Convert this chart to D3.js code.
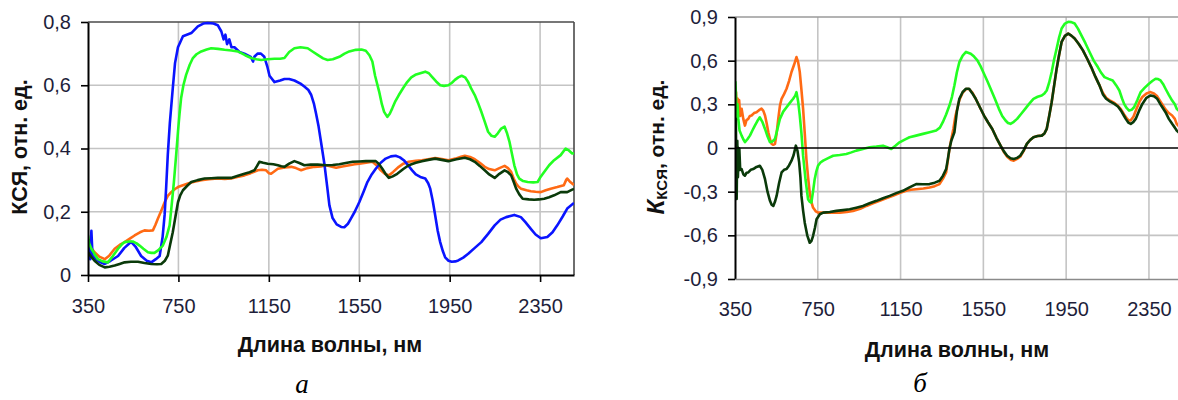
<!DOCTYPE html>
<html><head><meta charset="utf-8">
<script src="https://cdn.jsdelivr.net/npm/d3@7"></script>
<style>
body{margin:0;background:#fff}
</style>
</head><body>
<svg id="c" width="1178" height="400"></svg>
<script>
// ---------- ticks ----------
const xTicks = [350, 750, 1150, 1550, 1950, 2350];
const xTickLabels = ["350", "750", "1150", "1550", "1950", "2350"];
const yTicksA = [0, 0.2, 0.4, 0.6, 0.8];
const yTickLabelsA = ["0", "0,2", "0,4", "0,6", "0,8"];
const yTicksB = [-0.9, -0.6, -0.3, 0, 0.3, 0.6, 0.9];
const yTickLabelsB = ["-0,9", "-0,6", "-0,3", "0", "0,3", "0,6", "0,9"];

// ---------- panel a: [wavelength nm, KSYa] ----------
const blueA = [[350,0.07],[355,0.11],[360,0.05],[365,0.14],[370,0.06],[385,0.05],[405,0.04],[424,0.035],[450,0.045],[483,0.06],[510,0.085],[541,0.105],[560,0.09],[585,0.06],[610,0.045],[630,0.04],[650,0.05],[667,0.06],[680,0.12],[689,0.19],[696,0.28],[703,0.38],[712,0.48],[725,0.59],[735,0.67],[748,0.72],[770,0.755],[807,0.765],[836,0.786],[860,0.795],[880,0.797],[905,0.795],[924,0.79],[940,0.77],[950,0.745],[958,0.76],[965,0.73],[975,0.745],[985,0.72],[998,0.72],[1020,0.705],[1042,0.70],[1070,0.69],[1080,0.675],[1086,0.69],[1100,0.70],[1115,0.70],[1130,0.69],[1143,0.66],[1153,0.63],[1175,0.61],[1200,0.615],[1219,0.62],[1240,0.62],[1263,0.615],[1290,0.605],[1307,0.596],[1325,0.585],[1337,0.57],[1350,0.54],[1359,0.51],[1370,0.47],[1381,0.42],[1396,0.35],[1408,0.28],[1418,0.22],[1432,0.18],[1450,0.16],[1470,0.152],[1484,0.151],[1500,0.162],[1513,0.178],[1530,0.2],[1550,0.23],[1570,0.265],[1586,0.294],[1605,0.318],[1623,0.336],[1645,0.355],[1667,0.368],[1690,0.375],[1711,0.377],[1730,0.372],[1747,0.363],[1765,0.348],[1784,0.331],[1800,0.318],[1820,0.31],[1842,0.305],[1855,0.29],[1864,0.273],[1875,0.235],[1886,0.188],[1897,0.14],[1908,0.104],[1920,0.075],[1930,0.056],[1945,0.045],[1959,0.042],[1975,0.043],[1988,0.046],[2010,0.055],[2032,0.067],[2060,0.085],[2090,0.104],[2120,0.13],[2149,0.157],[2175,0.175],[2200,0.183],[2236,0.19],[2265,0.183],[2285,0.167],[2309,0.146],[2330,0.128],[2353,0.116],[2382,0.12],[2405,0.135],[2426,0.157],[2450,0.185],[2470,0.21],[2500,0.228]];
const greenA = [[350,0.125],[355,0.1],[365,0.083],[380,0.065],[394,0.05],[415,0.043],[438,0.04],[460,0.06],[483,0.083],[500,0.097],[512,0.104],[530,0.106],[548,0.106],[565,0.1],[578,0.093],[595,0.083],[615,0.072],[630,0.07],[644,0.07],[660,0.078],[681,0.093],[697,0.12],[711,0.157],[720,0.22],[730,0.294],[740,0.38],[748,0.453],[755,0.51],[762,0.56],[772,0.6],[784,0.633],[800,0.665],[814,0.686],[830,0.698],[851,0.707],[875,0.713],[895,0.717],[925,0.715],[954,0.712],[985,0.71],[1013,0.707],[1045,0.695],[1072,0.686],[1095,0.682],[1116,0.68],[1145,0.682],[1175,0.684],[1200,0.684],[1219,0.686],[1240,0.705],[1263,0.717],[1290,0.72],[1322,0.717],[1345,0.706],[1366,0.696],[1390,0.685],[1410,0.68],[1433,0.682],[1462,0.69],[1485,0.7],[1506,0.707],[1535,0.712],[1560,0.713],[1579,0.709],[1595,0.695],[1608,0.675],[1620,0.63],[1638,0.58],[1650,0.54],[1660,0.516],[1674,0.5],[1685,0.51],[1696,0.527],[1710,0.55],[1725,0.569],[1745,0.592],[1762,0.61],[1780,0.625],[1798,0.633],[1820,0.638],[1842,0.643],[1858,0.638],[1871,0.627],[1890,0.612],[1908,0.6],[1925,0.598],[1944,0.6],[1960,0.608],[1973,0.617],[1988,0.625],[2003,0.63],[2018,0.625],[2032,0.61],[2045,0.59],[2061,0.569],[2075,0.545],[2090,0.516],[2105,0.485],[2120,0.453],[2135,0.44],[2149,0.437],[2163,0.448],[2178,0.463],[2193,0.469],[2203,0.45],[2215,0.42],[2225,0.385],[2236,0.347],[2248,0.318],[2258,0.305],[2275,0.297],[2295,0.294],[2320,0.293],[2339,0.294],[2352,0.31],[2368,0.326],[2390,0.347],[2412,0.363],[2441,0.379],[2463,0.4],[2475,0.395],[2492,0.384],[2500,0.385]];
const orangeA = [[350,0.104],[365,0.085],[379,0.072],[400,0.058],[424,0.05],[445,0.062],[468,0.083],[490,0.095],[512,0.104],[535,0.115],[556,0.125],[580,0.135],[600,0.141],[620,0.14],[637,0.141],[648,0.158],[659,0.178],[675,0.205],[689,0.23],[703,0.25],[718,0.262],[735,0.272],[748,0.278],[770,0.284],[792,0.289],[820,0.295],[851,0.3],[885,0.303],[924,0.305],[955,0.304],[983,0.305],[1010,0.31],[1042,0.315],[1070,0.322],[1101,0.331],[1120,0.333],[1138,0.331],[1150,0.322],[1160,0.32],[1175,0.328],[1190,0.336],[1220,0.34],[1249,0.342],[1270,0.338],[1293,0.331],[1320,0.338],[1351,0.342],[1380,0.343],[1404,0.347],[1425,0.343],[1448,0.339],[1475,0.343],[1506,0.347],[1530,0.35],[1550,0.352],[1580,0.355],[1608,0.358],[1625,0.348],[1645,0.331],[1663,0.32],[1681,0.315],[1700,0.326],[1725,0.342],[1745,0.352],[1769,0.358],[1800,0.361],[1827,0.363],[1855,0.366],[1886,0.37],[1915,0.367],[1944,0.363],[1975,0.368],[2000,0.374],[2017,0.377],[2040,0.373],[2061,0.366],[2083,0.355],[2105,0.342],[2125,0.335],[2149,0.331],[2170,0.338],[2193,0.345],[2208,0.338],[2222,0.326],[2233,0.305],[2244,0.289],[2255,0.279],[2266,0.273],[2290,0.268],[2309,0.265],[2330,0.263],[2353,0.262],[2375,0.268],[2397,0.273],[2426,0.278],[2455,0.284],[2465,0.3],[2470,0.305],[2482,0.295],[2492,0.289],[2500,0.285]];
const darkA = [[350,0.072],[365,0.057],[379,0.045],[400,0.032],[424,0.024],[445,0.026],[468,0.03],[490,0.035],[512,0.04],[540,0.042],[571,0.042],[600,0.038],[630,0.035],[655,0.034],[674,0.035],[690,0.045],[703,0.061],[713,0.095],[725,0.135],[737,0.185],[748,0.23],[758,0.252],[770,0.268],[790,0.283],[807,0.294],[835,0.3],[866,0.305],[895,0.306],[924,0.307],[955,0.307],[983,0.307],[1010,0.313],[1042,0.32],[1065,0.325],[1086,0.331],[1098,0.345],[1108,0.358],[1125,0.355],[1145,0.352],[1170,0.35],[1190,0.347],[1205,0.344],[1219,0.342],[1240,0.352],[1263,0.36],[1285,0.354],[1307,0.347],[1335,0.349],[1366,0.349],[1404,0.347],[1432,0.348],[1462,0.35],[1490,0.354],[1521,0.358],[1550,0.359],[1579,0.36],[1600,0.36],[1623,0.36],[1638,0.35],[1652,0.336],[1666,0.32],[1681,0.307],[1698,0.312],[1718,0.32],[1745,0.335],[1769,0.347],[1800,0.355],[1827,0.36],[1855,0.364],[1886,0.368],[1915,0.364],[1944,0.36],[1980,0.366],[2017,0.371],[2040,0.366],[2061,0.358],[2083,0.345],[2105,0.331],[2125,0.318],[2149,0.307],[2170,0.32],[2193,0.331],[2208,0.325],[2222,0.315],[2233,0.295],[2244,0.273],[2258,0.255],[2273,0.241],[2300,0.239],[2324,0.238],[2345,0.239],[2368,0.241],[2390,0.246],[2412,0.252],[2441,0.262],[2470,0.262],[2492,0.27],[2500,0.272]];

// ---------- panel б: [wavelength nm, K_KSYa] ----------
const orangeB = [[350,0.35],[353,0.2],[355,0.384],[358,0.25],[362,0.34],[366,0.29],[370,0.33],[375,0.22],[382,0.27],[390,0.2],[398,0.154],[405,0.19],[414,0.2],[422,0.22],[430,0.223],[442,0.24],[454,0.246],[466,0.26],[478,0.27],[487,0.255],[495,0.223],[503,0.17],[511,0.108],[519,0.06],[527,0.028],[535,0.022],[543,0.028],[551,0.1],[559,0.2],[567,0.29],[575,0.338],[587,0.37],[599,0.407],[611,0.46],[623,0.522],[635,0.57],[647,0.625],[655,0.59],[663,0.522],[671,0.4],[679,0.27],[687,0.1],[695,-0.076],[703,-0.2],[711,-0.306],[719,-0.37],[727,-0.409],[740,-0.435],[752,-0.444],[792,-0.444],[825,-0.445],[856,-0.444],[890,-0.44],[920,-0.432],[955,-0.418],[985,-0.398],[1017,-0.38],[1049,-0.363],[1080,-0.345],[1113,-0.329],[1145,-0.31],[1177,-0.294],[1200,-0.287],[1225,-0.283],[1260,-0.278],[1290,-0.271],[1315,-0.262],[1338,-0.248],[1355,-0.21],[1370,-0.168],[1378,-0.09],[1386,-0.007],[1395,0.06],[1405,0.131],[1415,0.22],[1434,0.33],[1450,0.38],[1466,0.405],[1481,0.405],[1497,0.38],[1513,0.338],[1533,0.28],[1553,0.223],[1573,0.175],[1593,0.131],[1613,0.07],[1633,0.016],[1650,-0.03],[1665,-0.06],[1681,-0.08],[1697,-0.087],[1713,-0.075],[1728,-0.06],[1745,-0.02],[1760,0.028],[1776,0.055],[1792,0.074],[1812,0.082],[1832,0.085],[1845,0.1],[1856,0.131],[1868,0.22],[1880,0.315],[1892,0.43],[1904,0.545],[1916,0.64],[1928,0.729],[1944,0.77],[1960,0.786],[1975,0.772],[1991,0.752],[2011,0.715],[2031,0.671],[2051,0.615],[2071,0.556],[2091,0.49],[2111,0.43],[2127,0.38],[2143,0.345],[2163,0.325],[2183,0.31],[2200,0.29],[2215,0.265],[2230,0.23],[2245,0.2],[2254,0.189],[2262,0.19],[2275,0.215],[2290,0.27],[2305,0.32],[2318,0.35],[2338,0.375],[2358,0.384],[2374,0.375],[2390,0.355],[2410,0.31],[2430,0.265],[2446,0.24],[2462,0.223],[2475,0.2],[2484,0.166],[2500,0.14]];
const greenB = [[350,0.3],[352,0.453],[355,0.35],[358,0.2],[362,0.3],[366,0.2],[372,0.12],[382,0.085],[390,0.06],[398,0.04],[410,0.06],[422,0.085],[434,0.12],[446,0.154],[458,0.185],[470,0.211],[482,0.18],[495,0.131],[507,0.08],[519,0.04],[531,0.045],[543,0.062],[555,0.13],[567,0.2],[583,0.25],[599,0.28],[615,0.31],[631,0.338],[641,0.36],[647,0.384],[655,0.32],[663,0.223],[671,0.1],[679,-0.053],[691,-0.22],[703,-0.352],[711,-0.37],[719,-0.375],[727,-0.3],[735,-0.214],[743,-0.16],[751,-0.122],[763,-0.1],[776,-0.087],[800,-0.07],[824,-0.053],[856,-0.048],[888,-0.041],[912,-0.03],[936,-0.018],[968,-0.007],[1000,0.005],[1033,0.01],[1065,0.016],[1085,0.005],[1105,-0.007],[1125,0.015],[1145,0.039],[1170,0.058],[1193,0.074],[1225,0.085],[1258,0.097],[1290,0.108],[1322,0.12],[1340,0.14],[1354,0.177],[1370,0.23],[1386,0.292],[1398,0.35],[1410,0.43],[1422,0.52],[1434,0.59],[1450,0.635],[1466,0.66],[1489,0.648],[1505,0.628],[1521,0.602],[1537,0.56],[1553,0.51],[1569,0.46],[1585,0.407],[1605,0.34],[1625,0.269],[1641,0.22],[1657,0.189],[1669,0.172],[1681,0.166],[1697,0.18],[1713,0.2],[1733,0.235],[1752,0.269],[1772,0.305],[1792,0.338],[1812,0.352],[1832,0.361],[1845,0.375],[1856,0.395],[1868,0.45],[1880,0.522],[1892,0.61],[1904,0.683],[1916,0.76],[1928,0.821],[1944,0.855],[1960,0.867],[1975,0.865],[1991,0.855],[2007,0.82],[2023,0.775],[2043,0.72],[2063,0.66],[2083,0.6],[2103,0.556],[2120,0.515],[2135,0.487],[2155,0.475],[2175,0.464],[2192,0.43],[2207,0.395],[2220,0.34],[2230,0.303],[2242,0.275],[2254,0.257],[2266,0.262],[2278,0.28],[2294,0.33],[2310,0.384],[2330,0.415],[2350,0.441],[2366,0.46],[2382,0.476],[2394,0.474],[2406,0.464],[2418,0.44],[2430,0.407],[2446,0.365],[2462,0.326],[2475,0.3],[2484,0.269],[2500,0.25]];
const darkB = [[350,0.1],[352,-0.3],[354,0.2],[356,-0.1],[358,-0.35],[361,0.05],[364,-0.2],[368,0.0],[371,-0.007],[375,-0.15],[382,-0.145],[390,-0.18],[398,-0.19],[406,-0.17],[414,-0.168],[426,-0.15],[438,-0.145],[454,-0.13],[470,-0.122],[482,-0.15],[495,-0.214],[507,-0.3],[519,-0.363],[527,-0.39],[535,-0.398],[543,-0.37],[551,-0.329],[563,-0.24],[575,-0.168],[587,-0.15],[599,-0.145],[611,-0.12],[623,-0.087],[633,-0.05],[644,0.016],[652,-0.02],[660,-0.099],[666,-0.2],[671,-0.329],[679,-0.43],[687,-0.513],[699,-0.6],[711,-0.651],[719,-0.64],[727,-0.605],[736,-0.55],[744,-0.49],[760,-0.455],[776,-0.444],[808,-0.44],[840,-0.432],[872,-0.427],[904,-0.421],[936,-0.41],[968,-0.398],[1000,-0.38],[1033,-0.363],[1065,-0.345],[1097,-0.329],[1129,-0.31],[1161,-0.294],[1193,-0.27],[1225,-0.248],[1258,-0.249],[1290,-0.248],[1315,-0.238],[1338,-0.225],[1355,-0.19],[1370,-0.145],[1378,-0.08],[1386,-0.007],[1395,0.05],[1410,0.108],[1422,0.25],[1434,0.338],[1450,0.385],[1466,0.407],[1481,0.407],[1497,0.375],[1513,0.338],[1533,0.28],[1553,0.223],[1573,0.175],[1593,0.131],[1613,0.07],[1633,0.016],[1650,-0.025],[1665,-0.053],[1681,-0.07],[1697,-0.076],[1713,-0.068],[1728,-0.053],[1745,-0.015],[1760,0.028],[1776,0.055],[1792,0.074],[1812,0.082],[1832,0.085],[1845,0.1],[1856,0.131],[1868,0.22],[1880,0.315],[1892,0.43],[1904,0.545],[1916,0.64],[1928,0.729],[1944,0.77],[1960,0.786],[1975,0.772],[1991,0.752],[2011,0.715],[2031,0.671],[2051,0.615],[2071,0.556],[2091,0.49],[2111,0.43],[2127,0.37],[2143,0.338],[2163,0.318],[2183,0.303],[2200,0.285],[2215,0.257],[2230,0.22],[2238,0.2],[2250,0.175],[2262,0.166],[2274,0.178],[2286,0.2],[2302,0.255],[2318,0.303],[2338,0.345],[2358,0.361],[2374,0.355],[2390,0.338],[2410,0.29],[2430,0.246],[2446,0.2],[2462,0.166],[2475,0.14],[2484,0.12],[2500,0.1]];

const COL = {blue:"#0a14ff", green:"#22ff22", orange:"#ff6a14", dark:"#0a3a0a"};

const svg = d3.select("#c");
const SANS = '"Liberation Sans",Arial,sans-serif';
const SERIF = '"Liberation Serif","Times New Roman",serif';

function panel(o) {
  const x = d3.scaleLinear().domain([350, 2500]).range([o.left, o.right]);
  const y = d3.scaleLinear().domain(o.yDomain).range([o.bottom, o.top]);
  const g = svg.append("g");
  const clipId = "clip" + o.id;
  svg.append("clipPath").attr("id", clipId).append("rect")
    .attr("x", o.left).attr("y", o.top - 4).attr("width", o.right - o.left).attr("height", o.bottom - o.top + 8);

  // grid
  g.append("g").selectAll("line").data(xTicks.filter(d => d > 350)).join("line")
    .attr("x1", d => x(d)).attr("x2", d => x(d)).attr("y1", o.top).attr("y2", o.bottom)
    .attr("stroke", "#c4c4c4").attr("stroke-width", 1.6);
  g.append("g").selectAll("line").data(o.yTicks.filter(d => d !== o.yDomain[0] && d !== o.yDomain[1] && d !== 0)).join("line")
    .attr("x1", o.left).attr("x2", o.right).attr("y1", d => y(d)).attr("y2", d => y(d))
    .attr("stroke", "#c4c4c4").attr("stroke-width", 1.6);

  // frame top/right
  g.append("line").attr("x1", o.left).attr("x2", o.right).attr("y1", o.top).attr("y2", o.top)
    .attr("stroke", o.frame).attr("stroke-width", 1.6);
  g.append("line").attr("x1", o.right).attr("x2", o.right).attr("y1", o.top).attr("y2", o.bottom)
    .attr("stroke", o.frame).attr("stroke-width", 1.6);

  // series
  const line = d3.line().x(d => x(d[0])).y(d => y(d[1]));
  const sg = g.append("g").attr("clip-path", `url(#${clipId})`);
  o.series.forEach(s => {
    sg.append("path").datum(s.data).attr("d", line)
      .attr("fill", "none").attr("stroke", s.color).attr("stroke-width", 2.6)
      .attr("stroke-linejoin", "round");
  });

  // y axis
  const ya = d3.axisLeft(y).tickValues(o.yTicks).tickFormat((d, i) => o.yLabels[i])
    .tickSize(7).tickSizeOuter(0).tickPadding(10);
  const yg = g.append("g").attr("transform", `translate(${o.left},0)`).call(ya);
  yg.select(".domain").attr("stroke", "#000").attr("stroke-width", 2);
  yg.selectAll(".tick line").attr("stroke", "#000").attr("stroke-width", 1.6);
  yg.selectAll("text").style("font-size", "20px").style("font-family", SANS).attr("fill", "#1e1e3a");

  // x axis
  const xa = d3.axisBottom(x).tickValues(xTicks).tickFormat((d, i) => xTickLabels[i])
    .tickSize(o.xTickSize).tickSizeOuter(0).tickPadding(o.xPad);
  const xg = g.append("g").attr("transform", `translate(0,${o.bottom})`).call(xa);
  xg.select(".domain").attr("stroke", o.bottomColor).attr("stroke-width", o.bottomWidth);
  xg.selectAll(".tick line").attr("stroke", "#000").attr("stroke-width", 1.6);
  xg.selectAll("text").style("font-size", "20px").style("font-family", SANS).attr("fill", "#1e1e3a");

  if (o.zeroLine) {
    g.append("line").attr("x1", o.left).attr("x2", o.right).attr("y1", y(0)).attr("y2", y(0))
      .attr("stroke", "#000").attr("stroke-width", 1.4);
  }
  return {x, y, g};
}

// panel а
panel({
  id: "a", left: 88, right: 574, top: 22, bottom: 275,
  yDomain: [0, 0.8], yTicks: yTicksA, yLabels: yTickLabelsA,
  frame: "#4a4a4a", bottomColor: "#000", bottomWidth: 2, xTickSize: 7, xPad: 17,
  series: [
    {data: orangeA, color: COL.orange},
    {data: blueA, color: COL.blue},
    {data: greenA, color: COL.green},
    {data: darkA, color: COL.dark}
  ]
});

// panel б
panel({
  id: "b", left: 735, right: 1180, top: 17, bottom: 279,
  yDomain: [-0.9, 0.9], yTicks: yTicksB, yLabels: yTickLabelsB,
  frame: "#9a9a9a", bottomColor: "#8a8a8a", bottomWidth: 1.6, xTickSize: 0, xPad: 23, zeroLine: true,
  series: [
    {data: orangeB, color: COL.orange},
    {data: greenB, color: COL.green},
    {data: darkB, color: COL.dark}
  ]
});

// axis titles
svg.append("text").attr("transform", "translate(27,147) rotate(-90)")
  .attr("text-anchor", "middle").style("font-family", SANS).style("font-size", "21.5px").attr("font-weight", "bold").attr("fill", "#111")
  .text("КСЯ, отн. ед.");
svg.append("text").attr("x", 330).attr("y", 352).attr("text-anchor", "middle").style("font-family", SANS)
  .style("font-size", "21.5px").attr("font-weight", "bold").attr("fill", "#111").text("Длина волны, нм");
svg.append("text").attr("x", 957).attr("y", 357).attr("text-anchor", "middle").style("font-family", SANS)
  .style("font-size", "21.5px").attr("font-weight", "bold").attr("fill", "#111").text("Длина волны, нм");

const tb = svg.append("text").attr("transform", "translate(664,147) rotate(-90)")
  .attr("text-anchor", "middle").style("font-family", SANS).attr("font-weight", "bold").attr("fill", "#111");
tb.append("tspan").style("font-size", "24px").attr("font-style", "italic").text("К");
tb.append("tspan").style("font-size", "15px").attr("dy", 3).text("КСЯ");
tb.append("tspan").style("font-size", "21px").attr("dy", -3).text(", отн. ед.");

// captions
svg.append("text").attr("x", 302).attr("y", 393).attr("text-anchor", "middle")
  .style("font-family", SERIF).attr("font-style", "italic")
  .style("font-size", "27px").attr("fill", "#000").text("а");
svg.append("text").attr("x", 920).attr("y", 392).attr("text-anchor", "middle")
  .style("font-family", SERIF).attr("font-style", "italic")
  .style("font-size", "27px").attr("fill", "#000").text("б");
</script>
</body></html>
